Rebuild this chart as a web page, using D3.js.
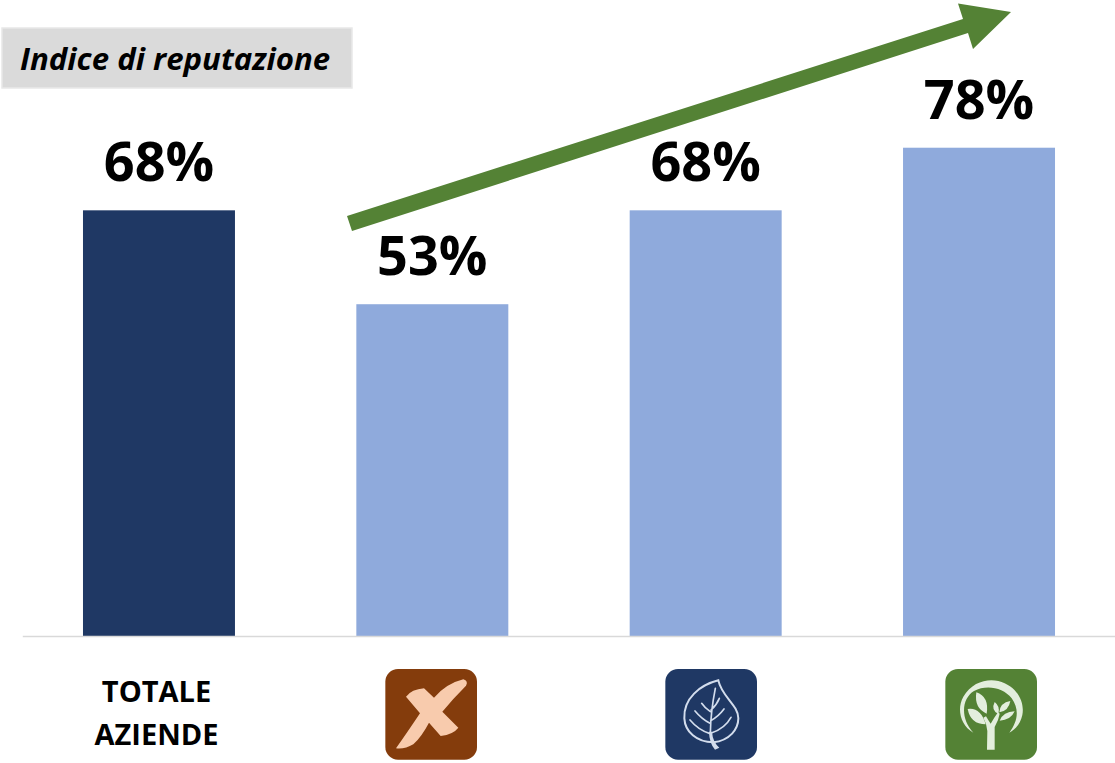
<!DOCTYPE html>
<html>
<head>
<meta charset="utf-8">
<script src="https://cdn.jsdelivr.net/npm/d3@7"></script>
<style>
  html, body { margin: 0; padding: 0; background: #fff; }
  svg { display: block; }
  text { font-family: "Open Sans", sans-serif; fill: #000; }
</style>
</head>
<body>
<svg id="chart" width="1115" height="763"></svg>
<script>
// Reputation index by company group
const categories = ["totale", "nessuna", "foglia", "albero"];
const reputation = [68, 53, 68, 78];
const barColors = ["#1f3864", "#8faadc", "#8faadc", "#8faadc"];
const chartTitle = "Indice di reputazione";
const totalLabel = ["TOTALE", "AZIENDE"];

const svg = d3.select("#chart");

const x = d3.scaleBand().domain(categories).range([22.3, 1115.7]).paddingInner(0.444).paddingOuter(0.222);
const y = d3.scaleLinear().domain([0, 100]).range([636, 10]);

// Title chip
const titleGroup = svg.append("g");
titleGroup.append("rect").attr("x", 2).attr("y", 28).attr("width", 350).attr("height", 60)
  .attr("fill", "#dadada").attr("stroke", "#e8e8e8").attr("stroke-width", 1.5);
titleGroup.append("text").attr("x", 20).attr("y", 70)
  .attr("font-size", 31.2).attr("font-weight", 700).attr("font-style", "italic")
  .text(chartTitle);

// Bars
svg.append("g").selectAll("rect").data(categories).join("rect")
  .attr("x", d => x(d))
  .attr("y", (d, i) => y(reputation[i]))
  .attr("width", x.bandwidth())
  .attr("height", (d, i) => y(0) - y(reputation[i]))
  .attr("fill", (d, i) => barColors[i]);

// Baseline, drawn with the band axis and its ticks and labels removed
const axis = svg.append("g").attr("transform", `translate(0,${y(0)})`)
  .call(d3.axisBottom(x).tickSize(0).tickFormat(""));
axis.select(".domain").attr("stroke", "#d9d9d9").attr("stroke-width", 1.5);
axis.selectAll(".tick").remove();

// Value labels
svg.append("g").selectAll("text").data(categories).join("text")
  .attr("x", d => x(d) + x.bandwidth() / 2)
  .attr("y", (d, i) => y(reputation[i]) - 29)
  .attr("text-anchor", "middle")
  .attr("font-size", 54).attr("font-weight", 700)
  .text((d, i) => reputation[i] + "%");

// Trend arrow
svg.append("path")
  .attr("d", "M347 216 L963 19 L958 3.5 L1011 12 L973 49 L968 33 L352 231 Z")
  .attr("fill", "#548235");

// Category label for the total
svg.append("text").attr("text-anchor", "middle")
  .attr("font-size", 29).attr("font-weight", 700)
  .selectAll("tspan").data(totalLabel).join("tspan")
  .attr("x", 156.5)
  .attr("y", (d, i) => 701.5 + i * 43)
  .text(d => d);

// Icon tiles; glyphs are drawn on a grid three times finer than the page
function tile(left, fill) {
  const g = svg.append("g").attr("transform", `translate(${left},655) scale(${1 / 3})`);
  g.append("rect").attr("x", 46).attr("y", 42).attr("width", 275).attr("height", 272).attr("rx", 38).attr("fill", fill);
  return g;
}

// Brown tile: cross
tile(370, "#843c0c").append("path").attr("fill", "#f8cbad")
  .attr("d", "M108 125 Q125 103 162 100 L192 128 Q230 85 280 73 Q296 78 288 92 Q250 130 217 170 L265 218 Q250 238 212 243 L177 203 Q155 245 130 268 Q105 283 78 280 Q110 235 150 175 Z");

// Navy tile: leaf
const leaf = tile(650, "#1f3864");
leaf.append("path").attr("fill", "none").attr("stroke", "#d3dded").attr("stroke-width", 6)
  .attr("d", "M205 76 C150 90 100 130 103 190 C105 230 140 262 190 262 C240 256 265 222 265 190 C265 150 215 125 205 76 Z");
leaf.append("path").attr("fill", "none").attr("stroke", "#d3dded").attr("stroke-width", 5).attr("stroke-linecap", "round")
  .attr("d", "M196 100 Q182 170 181 235 M155 145 Q165 160 181 170 M135 168 Q155 192 180 205 M120 195 Q145 225 180 236 M208 130 Q200 150 183 165 M222 162 Q205 185 182 197 M243 187 Q225 220 184 234");
leaf.append("path").attr("fill", "#d3dded").attr("d", "M177 230 L186 230 Q188 260 208 278 L195 284 Q178 265 177 230 Z");

// Green tile: tree inside a crescent
const tree = tile(930, "#548235");
tree.append("path").attr("fill", "#e3eedd")
  .attr("d", "M130 233 C90 210 80 160 100 125 C125 82 170 70 205 78 C260 92 285 140 277 180 C272 205 255 225 238 233 C262 200 270 165 245 130 C220 98 170 88 132 108 C95 130 90 190 130 233 Z");
tree.append("path").attr("fill", "#e3eedd")
  .attr("d", "M171 284 L172 228 Q170 205 160 188 L168 184 Q176 198 182 206 Q190 192 204 172 L209 176 Q206 195 194 216 L194 284 Z");
tree.append("path").attr("fill", "#e3eedd")
  .attr("d", "M139 112 Q178 125 170 176 Q132 160 139 112 Z M113 162 Q152 156 167 208 Q122 208 113 162 Z M194 141 Q212 155 205 177 Q182 165 194 141 Z M241 138 Q236 168 208 172 Q210 143 241 138 Z M254 169 Q242 196 209 197 Q220 170 254 169 Z");
</script>
</body>
</html>
